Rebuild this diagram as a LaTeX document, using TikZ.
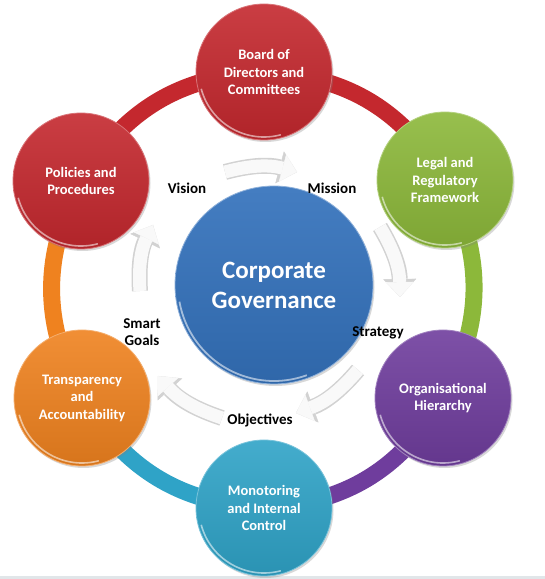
\documentclass[tikz,border=0pt]{standalone}
\usepackage{fontspec}
\setmainfont{Carlito}
\usetikzlibrary{arrows.meta,shadows,backgrounds}

\definecolor{cred}{HTML}{C4282E}
\definecolor{cgreen}{HTML}{8CB83A}
\definecolor{cpurple}{HTML}{6F3D9D}
\definecolor{cteal}{HTML}{2FA3C7}
\definecolor{corange}{HTML}{EF821F}
\definecolor{cblue}{HTML}{3472BC}
\definecolor{stripcol}{HTML}{E1E6E9}

\tikzset{
  ball/.style={circle, inner sep=0pt, minimum size=136pt,
    top color=#1!90!white, bottom color=#1!90!black,
    draw=#1!65!white, line width=0.8pt,
    text=white, font=\bfseries\fontsize{14.5}{17.5}\selectfont, align=center,
    drop shadow={shadow xshift=1.5pt, shadow yshift=-2pt, opacity=0.3},
    path picture={\draw[white, opacity=0.55, line width=1.6pt]
      (path picture bounding box.center) ++(195:65) arc[start angle=195, end angle=285, radius=65];}},
  hub/.style={circle, inner sep=0pt, minimum size=198pt,
    top color=#1!92!white, bottom color=#1!90!black,
    draw=#1!55!white, line width=0.8pt,
    text=white, font=\bfseries\fontsize{25}{30}\selectfont, align=center,
    drop shadow={shadow xshift=1.5pt, shadow yshift=-2pt, opacity=0.3},
    path picture={\draw[white, opacity=0.55, line width=1.8pt]
      (path picture bounding box.center) ++(190:96) arc[start angle=190, end angle=290, radius=96];}},
  band/.style={line width=17pt, draw=#1},
  lbl/.style={font=\bfseries\fontsize{15}{17}\selectfont, text=black, align=center},
  flow/.style={line width=13pt, draw=gray!5,
    -{Triangle[width=28pt,length=15pt,line width=0.4pt]},
    preaction={draw=gray!35, line width=16pt,
      -{Triangle[width=33pt,length=18pt,line width=0.4pt]}}},
}

\begin{document}
\begin{tikzpicture}[x=1pt,y=1pt]
\useasboundingbox (0,0) rectangle (545,579);

% outer nodes
\node[ball=cred]    (B) at (264,507) {Board of\\Directors and\\Committees};
\node[ball=cgreen]  (L) at (445,399) {Legal and\\Regulatory\\Framework};
\node[ball=cpurple] (O) at (443,181) {Organisational\\Hierarchy};
\node[ball=cteal]   (M) at (264,71)  {Monotoring\\and Internal\\Control};
\node[ball=corange] (T) at (82,181)  {Transparency\\and\\Accountability};
\node[ball=cred]    (P) at (81,398)  {Policies and\\Procedures};

% hub
\node[hub=cblue] (C) at (274,294) {Corporate\\Governance};

% background and ring bands
\begin{scope}[on background layer]
\fill[white] (0,0) rectangle (545,579);
\fill[stripcol] (0,0) rectangle (545,3);
\draw[band=cred]    (B.center) to[bend left=28] (L.center);
\draw[band=cgreen]  (L.center) to[bend left=28] (O.center);
\draw[band=cpurple] (O.center) to[bend left=28] (M.center);
\draw[band=cteal]   (M.center) to[bend left=28] (T.center);
\draw[band=corange] (T.center) to[bend left=28] (P.center);
\draw[band=cred]    (P.center) to[bend left=28] (B.center);
\end{scope}

% labels
\node[lbl] (vis) at (187,391) {Vision};
\node[lbl] (mis) at (332,391) {Mission};
\node[lbl] (str) at (378,246) {Strategy};
\node[lbl] (obj) at (260,159) {Objectives};
\node[lbl] (sg)  at (142,247) {Smart\\Goals};

% flow arrows
\coordinate (a1s) at (225,407); \coordinate (a1e) at (297,407);
\coordinate (a2s) at (380,352); \coordinate (a2e) at (400,282);
\coordinate (a3s) at (358,209); \coordinate (a3e) at (296,166);
\coordinate (a4s) at (222,161); \coordinate (a4e) at (158,203);
\coordinate (a5s) at (140,288); \coordinate (a5e) at (153,354);
\draw[flow] (a1s) to[bend left=15] (a1e);
\draw[flow] (a2s) to[bend left=15] (a2e);
\draw[flow] (a3s) to[bend left=15] (a3e);
\draw[flow] (a4s) to[bend left=15] (a4e);
\draw[flow] (a5s) to[bend left=15] (a5e);
\end{tikzpicture}
\end{document}
